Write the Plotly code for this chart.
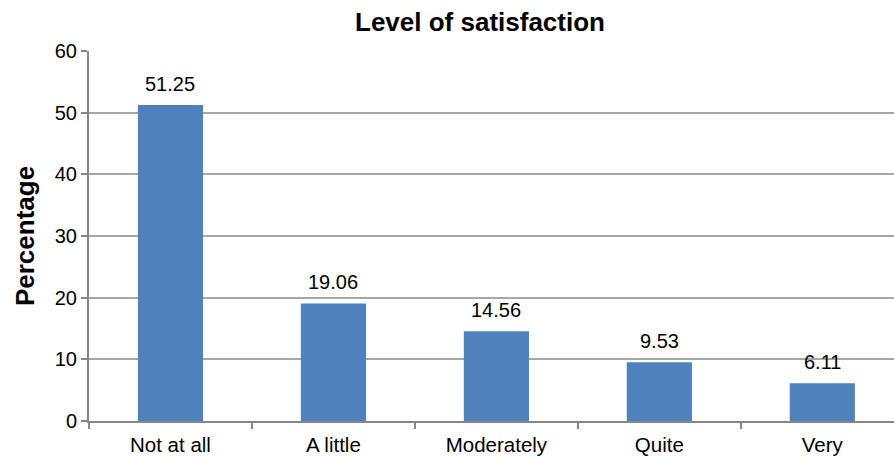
import plotly.graph_objects as go

categories = ["Not at all", "A little", "Moderately", "Quite", "Very"]
percentages = [51.25, 19.06, 14.56, 9.53, 6.11]
value_labels = ["51.25", "19.06", "14.56", "9.53", "6.11"]

FONT = "Liberation Sans, Arial, sans-serif"

fig = go.Figure(
    go.Bar(
        x=categories,
        y=percentages,
        width=0.4,
        marker=dict(color="#4f81bd", line=dict(width=0)),
        hoverinfo="x+y",
    )
)

# value labels sitting just above each bar
for cat, val, lab in zip(categories, percentages, value_labels):
    fig.add_annotation(
        x=cat,
        y=val,
        text=lab,
        showarrow=False,
        yanchor="bottom",
        yshift=8,
        font=dict(family=FONT, size=20, color="#000000"),
    )

fig.update_layout(
    width=894,
    height=457,
    margin=dict(l=89, r=0, t=51, b=36),
    paper_bgcolor="white",
    plot_bgcolor="white",
    showlegend=False,
    font=dict(family=FONT, color="#000000"),
    title=dict(
        text="<b>Level of satisfaction</b>",
        font=dict(family=FONT, size=26, color="#000000"),
        x=480 / 894,
        xanchor="center",
        xref="container",
        y=1 - 22 / 457,
        yanchor="middle",
        yref="container",
    ),
)

fig.update_xaxes(
    type="category",
    range=[-0.5, 4.44],
    tickson="boundaries",
    ticks="outside",
    ticklen=6,
    tickwidth=1.5,
    tickcolor="#868686",
    ticklabelstandoff=4,
    showline=True,
    linecolor="#868686",
    linewidth=2,
    showgrid=False,
    tickfont=dict(family=FONT, size=20.5, color="#000000"),
    fixedrange=True,
)

fig.update_yaxes(
    range=[0, 60],
    dtick=10,
    ticks="outside",
    ticklen=6,
    tickwidth=1.5,
    tickcolor="#868686",
    showline=True,
    linecolor="#868686",
    linewidth=2,
    showgrid=True,
    gridcolor="#a6a6a6",
    gridwidth=1.5,
    zeroline=False,
    tickfont=dict(family=FONT, size=20, color="#000000"),
    title=dict(
        text="<b>Percentage</b>",
        font=dict(family=FONT, size=26, color="#000000"),
        standoff=13,
    ),
    fixedrange=True,
)

fig.write_html("out.html")
